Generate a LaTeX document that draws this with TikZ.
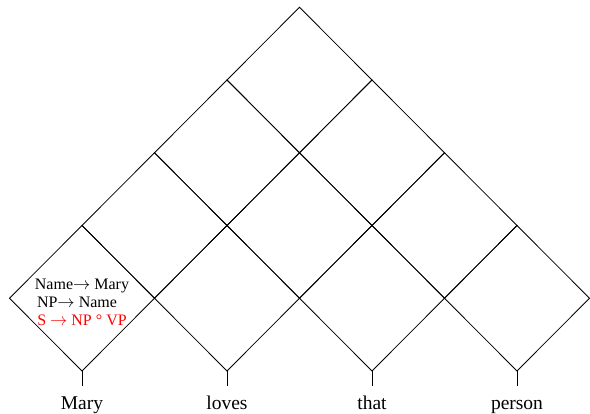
\documentclass[tikz,border=0pt]{standalone}
\usepackage{fontspec}
\setmainfont{Liberation Serif}
\newcommand{\rarr}{\ensuremath{\rightarrow}}
\begin{document}
\begin{tikzpicture}[x=1pt,y=-1pt,
  edge/.style={line width=0.8pt, line join=miter},
  word/.style={font=\fontsize{19.5}{22}\selectfont, anchor=base, inner sep=0pt},
  rulet/.style={font=\fontsize{16}{18.3}\selectfont, anchor=north, inner sep=0pt, align=center}]
\useasboundingbox (0,0) rectangle (590,414);
\def\w{72.5}
\def\h{72.75}
\foreach \i/\L in {0/1,1/1,2/1,3/1,0/2,1/2,2/2,0/3,1/3,0/4}{
  \coordinate (c\i\L) at ({82+145*(\i+(\L-1)/2)}, {371-\h*\L});
  \draw[edge] (c\i\L) ++(0,\h) -- ++(\w,-\h) -- ++(-\w,-\h) -- ++(-\w,\h) -- cycle;
}
\foreach \i/\t in {0/Mary,1/loves,2/that,3/person}{
  \coordinate (b\i) at ({82+145*\i},371);
  \coordinate (t\i) at ({82+145*\i},386);
  \draw[edge] (b\i) -- (t\i);
  \node[word] (w\i) at ({82+145*\i},410) {\t};
}
\node[rulet] (rules) at (82,278) {\rule{0pt}{11pt}Name\rarr{} Mary\\
  NP\rarr{} Name\hbox to 10pt{\hfil}\\
  \textcolor{red}{S \rarr{} NP ° VP}};
\end{tikzpicture}
\end{document}
